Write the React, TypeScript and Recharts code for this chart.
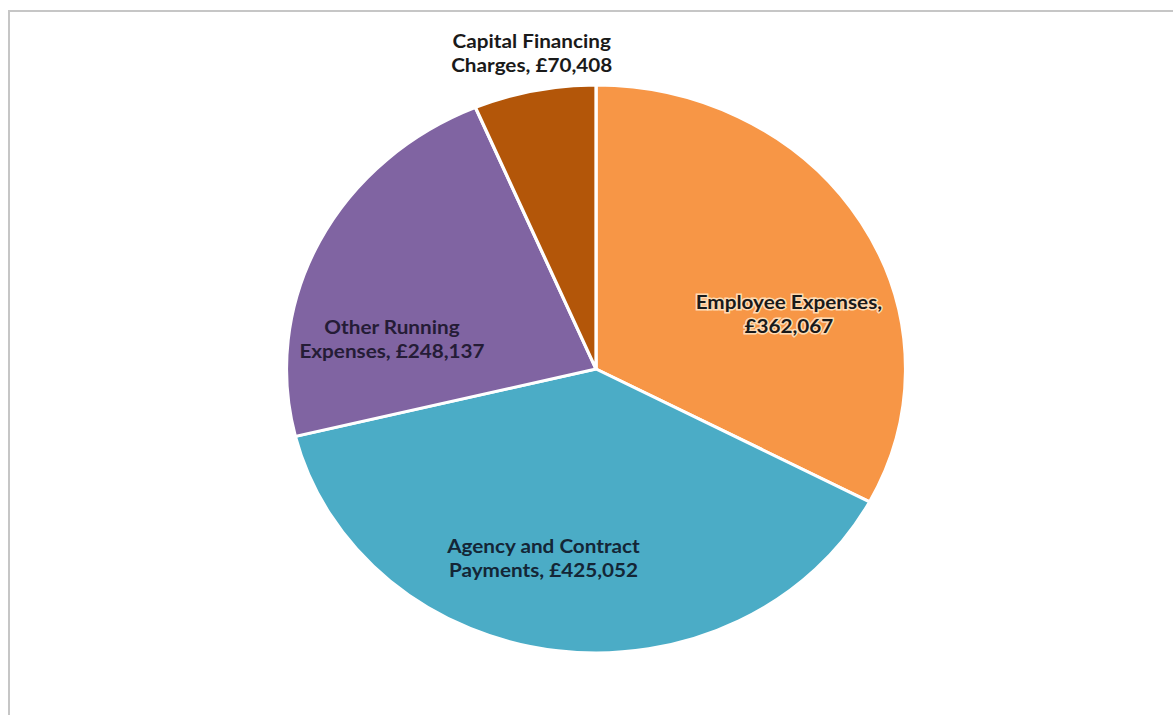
import React from 'react';
import { PieChart, Pie, Cell } from 'recharts';

const categories = ['Employee Expenses', 'Agency and Contract Payments', 'Other Running Expenses', 'Capital Financing Charges'];
const values = [362067, 425052, 248137, 70408];
const colors = ['#F79646', '#4BACC6', '#8064A2', '#B35609'];
// words on first label line
const labelBreak = [2, 3, 2, 2];
// label placement (style): radius factor and angle offset (deg)
const labelRadius = [0.646, 0.712, 0.664, 1.109];
const labelAngleOffset = [-15.75, -6.7, 19.7, -0.67];
const labelFill = ['#1a1a1a', '#142636', '#251c36', '#1a1a1a'];
const glow = ['rgba(255,228,195,0.9)', 'none', 'none', 'none'];

const data = categories.map((name, i) => ({ name, value: values[i] }));

const RAD = Math.PI / 180;
const SX = 1.09;

const fmt = (v: number) => '£' + v.toLocaleString('en-GB');

const renderLabel = (props: any) => {
  const { cx, cy, midAngle, outerRadius, index, name, value } = props;
  const a = (midAngle + labelAngleOffset[index]) * RAD;
  const r = outerRadius * labelRadius[index];
  const x = cx + r * Math.cos(a);
  const y = cy - r * Math.sin(a);
  const words = (name + ', ' + fmt(value)).split(' ');
  const l1 = words.slice(0, labelBreak[index]).join(' ');
  const l2 = words.slice(labelBreak[index]).join(' ');
  return (
    <text
      x={x}
      y={y}
      textAnchor="middle"
      fill={labelFill[index]}
      stroke={glow[index]}
      strokeWidth={glow[index] === 'none' ? 0 : 3}
      paintOrder="stroke"
      style={{ fontFamily: 'Lato, sans-serif', fontWeight: 700, fontSize: 19 }}
    >
      <tspan x={x} dy={-12}>{l1}</tspan>
      <tspan x={x} dy={24}>{l2}</tspan>
    </text>
  );
};

export default function App() {
  return (
    <div style={{ position: 'absolute', left: 0, top: 0, width: 1173, height: 715, background: '#fff', overflow: 'hidden' }}>
      <div
        style={{
          position: 'absolute',
          left: 8,
          top: 10,
          width: 1200,
          height: 720,
          borderTop: '2px solid #c6c6c6',
          borderLeft: '2px solid #c6c6c6',
          boxSizing: 'border-box',
        }}
      />
      <div style={{ position: 'absolute', left: 0, top: 0, width: 1076, height: 715, transform: `scaleX(${SX})`, transformOrigin: '0 0' }}>
        <PieChart width={1076} height={715} margin={{ top: 0, right: 0, bottom: 0, left: 0 }}>
          <Pie
            data={data}
            dataKey="value"
            nameKey="name"
            cx={546.8}
            cy={369}
            outerRadius={284}
            startAngle={90}
            endAngle={-270}
            stroke="#ffffff"
            strokeWidth={3}
            label={renderLabel}
            labelLine={false}
            isAnimationActive={false}
          >
            {data.map((d, i) => (
              <Cell key={d.name} fill={colors[i]} />
            ))}
          </Pie>
        </PieChart>
      </div>
    </div>
  );
}
